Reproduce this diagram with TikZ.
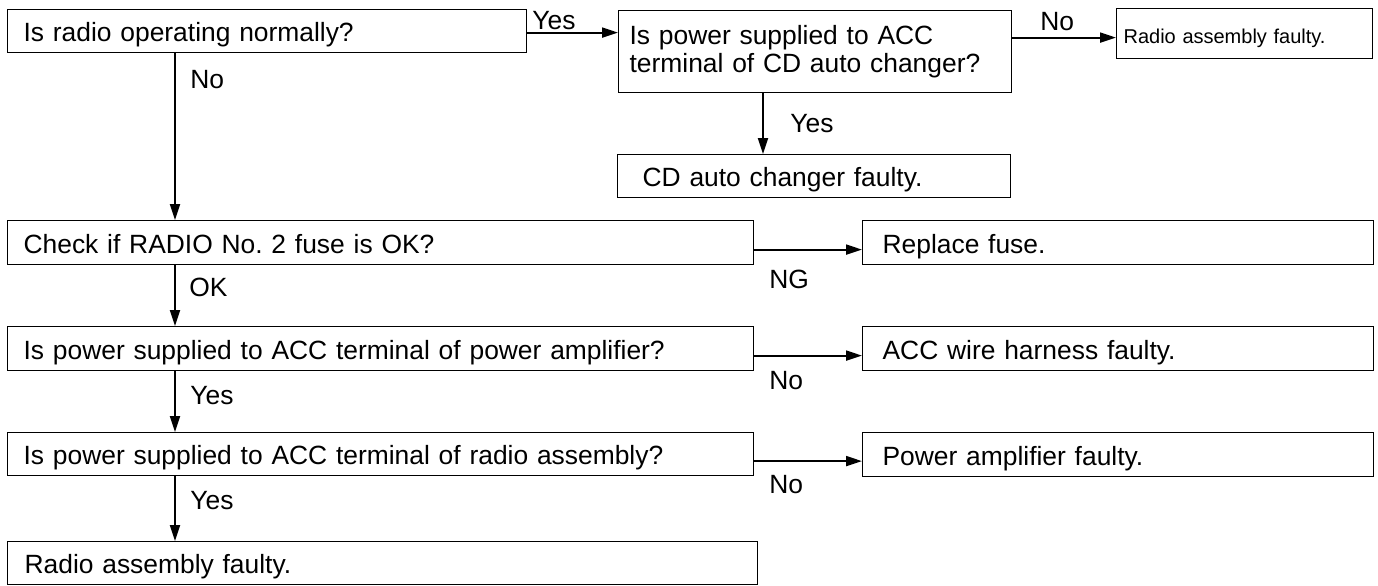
\documentclass[tikz,border=0pt]{standalone}
\usepackage{fontspec}
\setmainfont{Liberation Sans}
\usetikzlibrary{arrows.meta}
\newcommand{\mainsize}{\fontsize{13.2}{14}\selectfont\frenchspacing}
\newcommand{\smallsize}{\fontsize{10}{12}\selectfont\frenchspacing}
\begin{document}
\begin{tikzpicture}[x=0.5pt, y=-0.5pt,
  box/.style={draw, line width=0.6pt, anchor=north west, inner ysep=0pt, align=left, font=\mainsize},
  one/.style={text height=11pt, text depth=0.5pt},
  arr/.style={line width=1pt, -{Triangle[length=8pt,width=5pt]}},
  lbl/.style={anchor=base west, inner sep=0pt, font=\mainsize}]
\useasboundingbox (0,0) rectangle (1378,585);

% boxes
\node[box, one, minimum width=259.5pt, minimum height=21.5pt, inner xsep=8pt, text width=243.5pt] (q1) at (7,9) {Is radio operating normally?};
\node[box, minimum width=196.5pt, minimum height=41pt, inner xsep=5.5pt, text width=185.5pt] (q2) at (618,10) {Is power supplied to ACC\\terminal of CD auto changer?};
\node[box, font=\smallsize, text height=10.5pt, text depth=0.5pt, minimum width=128pt, minimum height=25pt, inner xsep=3.5pt, text width=121pt] (r3) at (1116,8) {Radio assembly faulty.};
\node[box, one, minimum width=196.5pt, minimum height=21.5pt, inner xsep=12.5pt, text width=171.5pt] (r4) at (617,154) {CD auto changer faulty.};
\node[box, one, minimum width=373pt, minimum height=22pt, inner xsep=8pt, text width=357pt] (q5) at (7,220) {Check if RADIO No. 2 fuse is OK?};
\node[box, one, minimum width=255.5pt, minimum height=22pt, inner xsep=10pt, text width=235.5pt] (r6) at (862,220) {Replace fuse.};
\node[box, one, minimum width=373pt, minimum height=22pt, inner xsep=8pt, text width=357pt] (q7) at (7,326) {Is power supplied to ACC terminal of power amplifier?};
\node[box, one, minimum width=255.5pt, minimum height=22pt, inner xsep=10pt, text width=235.5pt] (r8) at (862,326) {ACC wire harness faulty.};
\node[box, one, minimum width=373pt, minimum height=21.5pt, inner xsep=8pt, text width=357pt] (q9) at (7,432) {Is power supplied to ACC terminal of radio assembly?};
\node[box, one, minimum width=255.5pt, minimum height=22pt, inner xsep=10pt, text width=235.5pt] (r10) at (862,432) {Power amplifier faulty.};
\node[box, one, minimum width=375pt, minimum height=21.5pt, inner xsep=8.5pt, text width=358pt] (q11) at (7,541) {Radio assembly faulty.};

% spine coordinates
\coordinate (spine) at (175,0);
\coordinate (cdx) at (763,0);

% connectors
\draw[arr] ([yshift=-0.75pt]q1.east) -- ([yshift=-0.75pt]q1.east -| q2.west);
\draw[arr] ([yshift=-2pt]r3.west -| q2.east) -- ([yshift=-2pt]r3.west);
\draw[arr] (q2.south -| cdx) -- (r4.north -| cdx);
\draw[arr] (q1.south -| spine) -- (q5.north -| spine);
\draw[arr] ([yshift=-3.5pt]q5.east) -- ([yshift=-3.5pt]q5.east -| r6.west);
\draw[arr] (q5.south -| spine) -- (q7.north -| spine);
\draw[arr] ([yshift=-3.5pt]q7.east) -- ([yshift=-3.5pt]q7.east -| r8.west);
\draw[arr] (q7.south -| spine) -- (q9.north -| spine);
\draw[arr] ([yshift=-3.5pt]q9.east) -- ([yshift=-3.5pt]q9.east -| r10.west);
\draw[arr] (q9.south -| spine) -- (q11.north -| spine);

% labels
\node[lbl] (l1) at (532,29) {Yes};
\node[lbl] (l2) at (1040,30) {No};
\node[lbl] (l3) at (190,88) {No};
\node[lbl] (l4) at (790,132) {Yes};
\node[lbl] (l5) at (189,296) {OK};
\node[lbl] (l6) at (769,288) {NG};
\node[lbl] (l7) at (190,404) {Yes};
\node[lbl] (l8) at (769,389) {No};
\node[lbl] (l9) at (190,509) {Yes};
\node[lbl] (l10) at (769,493) {No};
\end{tikzpicture}
\end{document}
